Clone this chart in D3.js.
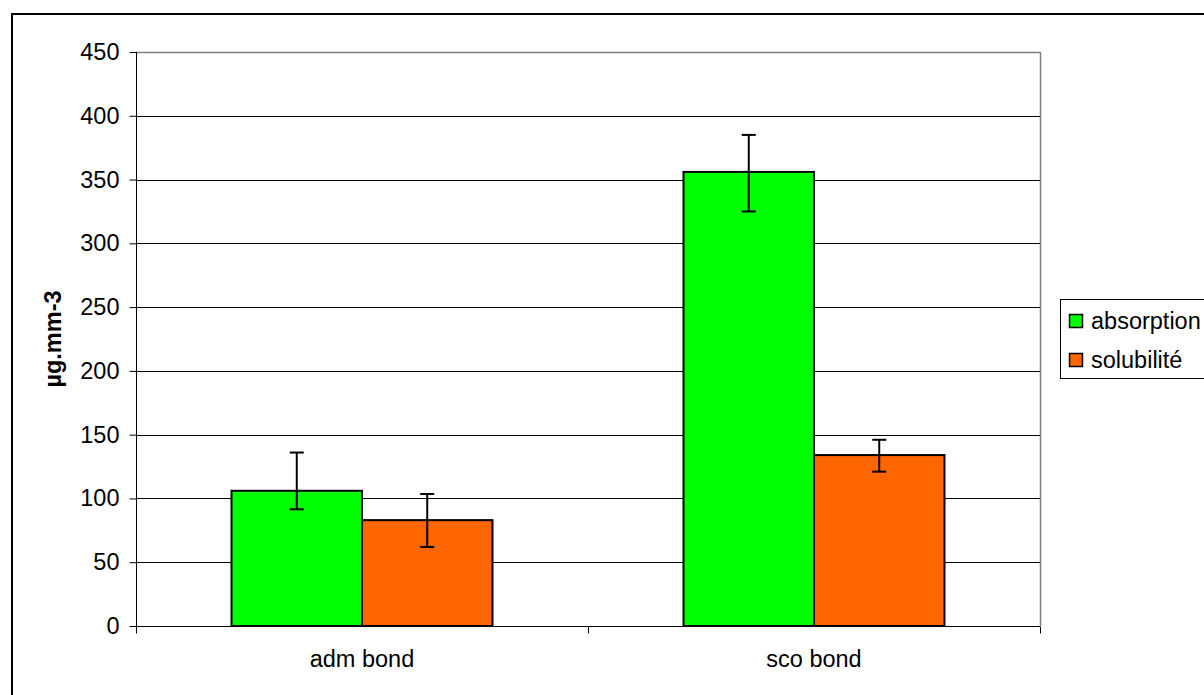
<!DOCTYPE html>
<html>
<head>
<meta charset="utf-8">
<script src="https://cdn.jsdelivr.net/npm/d3@7"></script>
<style>
  html, body { margin: 0; padding: 0; background: #fff; }
  svg { display: block; font-family: Arial, "Liberation Sans", sans-serif; }
</style>
</head>
<body>
<svg id="chart" width="1204" height="695"></svg>
<script>
// ---- data ----
const categories = ["adm bond", "sco bond"];
const seriesNames = ["absorption", "solubilité"];
const seriesColors = ["#00FF00", "#FF6600"];
const absorption = [106, 356];
const solubilite = [83, 134];
const absorptionHigh = [136, 385];
const absorptionLow = [91.5, 325];
const solubiliteHigh = [103.5, 146];
const solubiliteLow = [62, 121];
const yTicks = [0, 50, 100, 150, 200, 250, 300, 350, 400, 450];
const yLabel = "µg.mm-3";

const seriesValues = [absorption, solubilite];
const seriesHigh = [absorptionHigh, solubiliteHigh];
const seriesLow = [absorptionLow, solubiliteLow];

const svg = d3.select("#chart");
const fontSize = 23.5;

// outer frame (extends beyond viewport on right/bottom)
svg.append("rect")
  .attr("x", 12).attr("y", 14).attr("width", 1300).attr("height", 800)
  .attr("fill", "none").attr("stroke", "#000").attr("stroke-width", 2);

const plot = { left: 136, right: 1040, top: 52, bottom: 626 };

const y = d3.scaleLinear().domain([0, 450]).range([plot.bottom, plot.top]);
const x0 = d3.scaleBand().domain(categories).range([plot.left, plot.right]).paddingInner(0).paddingOuter(0);
const x1 = d3.scaleBand().domain(seriesNames).range([0, x0.bandwidth()]).paddingInner(0).paddingOuter(0.732);

// gridlines
svg.append("g").selectAll("line").data(yTicks.filter(t => t > 0 && t < 450)).join("line")
  .attr("x1", plot.left).attr("x2", plot.right)
  .attr("y1", d => Math.round(y(d)) + 0.5).attr("y2", d => Math.round(y(d)) + 0.5)
  .attr("stroke", "#000").attr("stroke-width", 1);

// plot frame top & right (gray)
svg.append("line").attr("x1", plot.left).attr("x2", plot.right + 0.5)
  .attr("y1", plot.top + 0.5).attr("y2", plot.top + 0.5).attr("stroke", "#808080").attr("stroke-width", 1.5);
svg.append("line").attr("x1", plot.right + 0.5).attr("x2", plot.right + 0.5)
  .attr("y1", plot.top).attr("y2", plot.bottom).attr("stroke", "#808080").attr("stroke-width", 1.5);

// y axis
const yAxis = d3.axisLeft(y).tickValues(yTicks).tickSize(7).tickPadding(10).tickFormat(d3.format("d"));
const gy = svg.append("g").attr("transform", `translate(${plot.left + 0.5},0)`).call(yAxis);
gy.select(".domain").attr("stroke", "#000").attr("d", `M0,${plot.top}V${plot.bottom}`);
gy.selectAll(".tick line").attr("stroke", "#000");
gy.selectAll("text").attr("font-size", fontSize).attr("fill", "#000")
  .attr("font-family", "Arial, 'Liberation Sans', sans-serif");

// x axis
const xAxis = d3.axisBottom(x0).tickSize(0).tickPadding(0);
const gx = svg.append("g").attr("transform", `translate(0,${plot.bottom + 0.5})`).call(xAxis);
gx.select(".domain").attr("stroke", "#000").attr("d", `M${plot.left},0H${plot.right}`);
gx.selectAll("text").attr("font-size", fontSize).attr("fill", "#000").attr("dy", null).attr("y", 40)
  .attr("font-family", "Arial, 'Liberation Sans', sans-serif");
// category boundary ticks
const boundaries = categories.map(c => x0(c)).concat([x0(categories[categories.length - 1]) + x0.bandwidth()]);
gx.append("g").selectAll("line").data(boundaries).join("line")
  .attr("x1", d => Math.round(d) + 0.5).attr("x2", d => Math.round(d) + 0.5)
  .attr("y1", 0).attr("y2", 7).attr("stroke", "#000");

// bars
const groups = svg.append("g").selectAll("g").data(categories).join("g")
  .attr("transform", c => `translate(${x0(c)},0)`);

groups.selectAll("rect").data((c, ci) => seriesNames.map((s, si) => ({ s, si, v: seriesValues[si][ci] })))
  .join("rect")
  .attr("x", d => x1(d.s))
  .attr("y", d => y(d.v))
  .attr("width", x1.bandwidth())
  .attr("height", d => y(0) - y(d.v))
  .attr("fill", d => seriesColors[d.si])
  .attr("stroke", "#000").attr("stroke-width", 2);

// error bars
const capW = 14;
const errs = groups.selectAll("g.err").data((c, ci) => seriesNames.map((s, si) => ({
  s, hi: seriesHigh[si][ci], lo: seriesLow[si][ci]
}))).join("g").attr("class", "err");
errs.append("line")
  .attr("x1", d => x1(d.s) + x1.bandwidth() / 2).attr("x2", d => x1(d.s) + x1.bandwidth() / 2)
  .attr("y1", d => y(d.hi)).attr("y2", d => y(d.lo))
  .attr("stroke", "#000").attr("stroke-width", 2);
errs.append("line")
  .attr("x1", d => x1(d.s) + x1.bandwidth() / 2 - capW / 2).attr("x2", d => x1(d.s) + x1.bandwidth() / 2 + capW / 2)
  .attr("y1", d => y(d.hi)).attr("y2", d => y(d.hi))
  .attr("stroke", "#000").attr("stroke-width", 2);
errs.append("line")
  .attr("x1", d => x1(d.s) + x1.bandwidth() / 2 - capW / 2).attr("x2", d => x1(d.s) + x1.bandwidth() / 2 + capW / 2)
  .attr("y1", d => y(d.lo)).attr("y2", d => y(d.lo))
  .attr("stroke", "#000").attr("stroke-width", 2);

// y label
svg.append("text")
  .attr("transform", `translate(61,${(plot.top + plot.bottom) / 2}) rotate(-90)`)
  .attr("text-anchor", "middle")
  .attr("font-size", fontSize).attr("font-weight", "bold")
  .text(yLabel);

// legend
const legend = svg.append("g");
legend.append("rect").attr("x", 1060.5).attr("y", 299.5).attr("width", 300).attr("height", 79)
  .attr("fill", "#fff").attr("stroke", "#000").attr("stroke-width", 1);
const li = legend.selectAll("g.item").data(seriesNames).join("g").attr("class", "item")
  .attr("transform", (d, i) => `translate(1069,${321 + i * 39})`);
li.append("rect").attr("x", 0.5).attr("y", -6.5).attr("width", 13).attr("height", 13)
  .attr("fill", (d, i) => seriesColors[i]).attr("stroke", "#000").attr("stroke-width", 1.5);
li.append("text").attr("x", 22).attr("y", 0).attr("dy", "0.35em")
  .attr("font-size", fontSize).text(d => d);
</script>
</body>
</html>
